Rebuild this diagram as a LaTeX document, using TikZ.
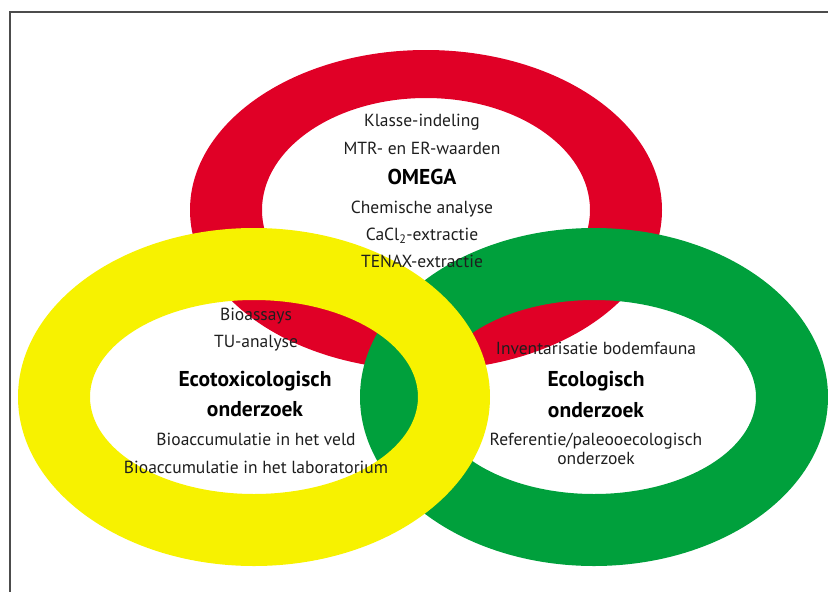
\documentclass[tikz,border=0pt]{standalone}
\usepackage{fontspec}
\setmainfont{PT Sans}
\usepackage{tikz}
\definecolor{RingRed}{RGB}{224,0,38}
\definecolor{RingYellow}{RGB}{247,242,0}
\definecolor{RingGreen}{RGB}{0,160,60}
\definecolor{TextGrey}{RGB}{30,30,30}

\begin{document}
\begin{tikzpicture}[x=1pt,y=-1pt,
  ring/.style={fill=#1,even odd rule},
  lbl/.style={anchor=base,inner sep=0pt,text=TextGrey,font=\fontsize{17.5}{19}\selectfont},
  hd/.style={anchor=base,inner sep=0pt,text=black,font=\fontsize{21.5}{22}\selectfont\bfseries}]
\useasboundingbox (0,0) rectangle (828,592);
\draw[line width=1.2pt,black!70] (10,592) -- (10,12) -- (828,12);
% rings: red below, green, yellow on top
\fill[ring=RingRed] (426,210) ellipse[x radius=236pt,y radius=160pt]
   (426,210) ellipse[x radius=164pt,y radius=112pt];
\fill[ring=RingGreen] (594,397) ellipse[x radius=234pt,y radius=169pt]
   (594,397) ellipse[x radius=162pt,y radius=97pt];
\fill[ring=RingYellow] (254,397) ellipse[x radius=236pt,y radius=169pt]
   (254,397) ellipse[x radius=164pt,y radius=97pt];
% OMEGA
\foreach \y/\t [count=\i] in %
{126.7/Klasse-indeling,154/MTR- en ER-waarden,213/Chemische analyse,240.7/CaCl\textsubscript{2}-extractie,267/TENAX-extractie} {
   \node[lbl] (om\i) at (422,\y) {\t};
}
\node[hd] (omega) at (422,184) {OMEGA};
% ecotoxicologisch
\foreach \y/\t [count=\i] in %
{320/Bioassays,347/TU-analyse,445/Bioaccumulatie in het veld,473/Bioaccumulatie in het laboratorium} {
   \node[lbl] (eco\i) at (256,\y) {\t};
}
\node[hd] (ecotox1) at (255,386) {Ecotoxicologisch};
\node[hd] (ecotox2) at (255,416) {onderzoek};
% ecologisch
\node[lbl] (inv) at (596,354) {Inventarisatie bodemfauna};
\node[hd] (ecol1) at (596,386) {Ecologisch};
\node[hd] (ecol2) at (596,417) {onderzoek};
\node[lbl,align=center,anchor=north] (ref) at (596,433) {Referentie/paleooecologisch\\onderzoek};
\end{tikzpicture}
\end{document}
